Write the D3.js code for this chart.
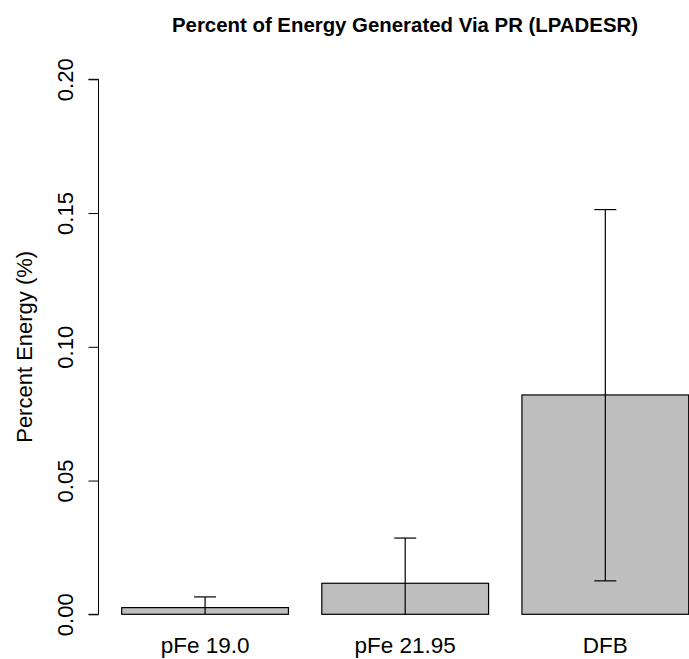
<!DOCTYPE html>
<html><head><meta charset="utf-8">
<script src="https://cdn.jsdelivr.net/npm/d3@7"></script>
<style>body{margin:0;background:#fff}svg{display:block}text{font-family:"Liberation Sans",Arial,Helvetica,sans-serif}</style>
</head><body>
<div id="chart"></div>
<script>
const categories = ["pFe 19.0", "pFe 21.95", "DFB"];
const means = [0.0025, 0.0116, 0.082];
const errUpper = [0.0065, 0.0285, 0.1513];
const errLower = [-0.0015, -0.0053, 0.0125];
const yTicks = [0, 0.05, 0.10, 0.15, 0.20];
const yTickLabels = ["0.00", "0.05", "0.10", "0.15", "0.20"];
const title = "Percent of Energy Generated Via PR (LPADESR)";
const yTitle = "Percent Energy (%)";

const W = 689, H = 659;
const svg = d3.select("#chart").append("svg").attr("width", W).attr("height", H);

// R barplot: width 1, space 0.2
const barLeft = categories.map((c, i) => 0.2 + i * 1.2);
const x = d3.scaleLinear().domain([0.2, 3.6]).range([121.7, 688.7]);
const y = d3.scaleLinear().domain([0, 0.2]).range([614.3, 79.3]);

const data = categories.map((c, i) => ({c, m: means[i], lo: errLower[i], hi: errUpper[i], l: barLeft[i]}));

svg.selectAll("rect.bar").data(data).enter().append("rect")
  .attr("class", "bar")
  .attr("x", d => x(d.l))
  .attr("width", d => x(d.l + 1) - x(d.l))
  .attr("y", d => y(d.m))
  .attr("height", d => y(0) - y(d.m))
  .attr("fill", "#bebebe").attr("stroke", "#000").attr("stroke-width", 1.2);

// error bars
const cap = 11;
const eg = svg.append("g").attr("stroke", "#000").attr("stroke-width", 1.2);
data.forEach(d => {
  const cx = x(d.l + 0.5);
  const lo = Math.max(0, d.lo);
  eg.append("line").attr("x1", cx).attr("x2", cx).attr("y1", y(lo)).attr("y2", y(d.hi));
  eg.append("line").attr("x1", cx - cap).attr("x2", cx + cap).attr("y1", y(d.hi)).attr("y2", y(d.hi));
  if (d.lo > 0) eg.append("line").attr("x1", cx - cap).attr("x2", cx + cap).attr("y1", y(d.lo)).attr("y2", y(d.lo));
});

// y axis
const yAxis = d3.axisLeft(y).tickValues(yTicks).tickFormat((v, i) => yTickLabels[i]).tickSize(10).tickPadding(0);
const ag = svg.append("g").attr("transform", "translate(98.5,0)").call(yAxis);
ag.select(".domain").attr("stroke", "#000").attr("d", `M-10,${y(0)}H0V${y(0.2)}H-10`);
ag.selectAll(".tick line").attr("stroke", "#000");
ag.selectAll(".tick text")
  .attr("x", 0).attr("y", 0).attr("dy", null)
  .attr("transform", "translate(-25.5,0) rotate(-90)")
  .attr("text-anchor", "middle")
  .attr("font-size", 22).attr("font-family", "Liberation Sans, Arial, sans-serif").attr("fill", "#000");

// x labels
svg.selectAll("text.xl").data(data).enter().append("text")
  .attr("class", "xl")
  .attr("x", d => x(d.l + 0.5)).attr("y", 653)
  .attr("text-anchor", "middle").attr("font-size", 22.5).text(d => d.c);

// title
svg.append("text").attr("x", 405).attr("y", 32).attr("text-anchor", "middle")
  .attr("font-size", 20.4).attr("font-weight", "bold").text(title);

// y title
svg.append("text").attr("transform", `translate(32,${(y(0)+y(0.2))/2}) rotate(-90)`)
  .attr("text-anchor", "middle").attr("font-size", 22).text(yTitle);
</script>
</body></html>
